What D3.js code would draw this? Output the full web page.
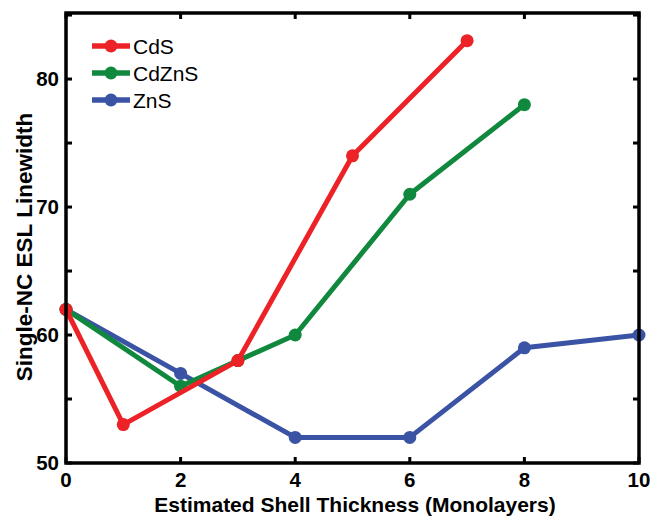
<!DOCTYPE html>
<html><head><meta charset="utf-8">
<script src="https://cdn.jsdelivr.net/npm/d3@7"></script>
<style>body{margin:0;background:#fff}</style>
</head><body>
<svg id="c" width="651" height="516"></svg>
<script>
const seriesNames = ["CdS", "CdZnS", "ZnS"];
const seriesColors = ["#ec2227", "#10893e", "#3a53a4"];
const cdsX = [0, 1, 3, 5, 7];
const cdsY = [62, 53, 58, 74, 83];
const cdznsX = [0, 2, 3, 4, 6, 8];
const cdznsY = [62, 56, 58, 60, 71, 78];
const znsX = [0, 2, 4, 6, 8, 10];
const znsY = [62, 57, 52, 52, 59, 60];
const xTicks = [0, 2, 4, 6, 8, 10];
const yTicks = [50, 55, 60, 65, 70, 75, 80, 85];
const yLabels = [50, 60, 70, 80];
const xTitle = "Estimated Shell Thickness (Monolayers)";
const yTitle = "Single-NC ESL Linewidth";

const svg = d3.select("#c");
const L = 66, R = 639, T = 13, B = 463;
const x = d3.scaleLinear().domain([0, 10]).range([L, R]);
const y = d3.scaleLinear().domain([50, 85.16]).range([B, T]);
const font = "Arial, 'Liberation Sans', sans-serif";

const data = [
  cdsX.map((v, i) => [v, cdsY[i]]),
  cdznsX.map((v, i) => [v, cdznsY[i]]),
  znsX.map((v, i) => [v, znsY[i]])
];

// ticks (inward on all sides)
const tl = 6;
const g = svg.append("g").attr("stroke", "#000").attr("stroke-width", 3);
xTicks.forEach(v => {
  g.append("line").attr("x1", x(v)).attr("x2", x(v)).attr("y1", B).attr("y2", B - tl);
  g.append("line").attr("x1", x(v)).attr("x2", x(v)).attr("y1", T).attr("y2", T + tl);
});
yTicks.forEach(v => {
  g.append("line").attr("x1", L).attr("x2", L + tl).attr("y1", y(v)).attr("y2", y(v));
  g.append("line").attr("x1", R).attr("x2", R - tl).attr("y1", y(v)).attr("y2", y(v));
});

// lines (draw ZnS first so CdS on top)
const line = d3.line().x(d => x(d[0])).y(d => y(d[1]));
[2, 1, 0].forEach(i => {
  svg.append("path").datum(data[i]).attr("d", line)
    .attr("fill", "none").attr("stroke", seriesColors[i]).attr("stroke-width", 5)
    .attr("stroke-linejoin", "round");
  svg.selectAll(null).data(data[i]).enter().append("circle")
    .attr("cx", d => x(d[0])).attr("cy", d => y(d[1])).attr("r", 6.5)
    .attr("fill", seriesColors[i]);
});

// frame
svg.append("rect").attr("x", L).attr("y", T).attr("width", R - L).attr("height", B - T)
  .attr("fill", "none").attr("stroke", "#000").attr("stroke-width", 3.5);

// tick labels
xTicks.forEach(v => {
  svg.append("text").attr("x", x(v)).attr("y", 487).attr("text-anchor", "middle")
    .attr("font-family", font).attr("font-weight", "bold").attr("font-size", 20.5).text(v);
});
yLabels.forEach(v => {
  svg.append("text").attr("x", 59).attr("y", y(v) + 6.5).attr("text-anchor", "end")
    .attr("font-family", font).attr("font-weight", "bold").attr("font-size", 20.5).text(v);
});

// axis titles
svg.append("text").attr("x", 355).attr("y", 512).attr("text-anchor", "middle")
  .attr("font-family", font).attr("font-weight", "bold").attr("font-size", 21).text(xTitle);
svg.append("text").attr("transform", "translate(32,247) rotate(-90)").attr("text-anchor", "middle")
  .attr("font-family", font).attr("font-weight", "bold").attr("font-size", 22.5).text(yTitle);

// legend
seriesNames.forEach((n, i) => {
  const ly = 46 + i * 27;
  svg.append("line").attr("x1", 92).attr("x2", 130).attr("y1", ly).attr("y2", ly)
    .attr("stroke", seriesColors[i]).attr("stroke-width", 5.5);
  svg.append("circle").attr("cx", 111).attr("cy", ly).attr("r", 6.5).attr("fill", seriesColors[i]);
  svg.append("text").attr("x", 133).attr("y", ly + 7.5).attr("font-family", font)
    .attr("font-size", 21).text(n);
});
</script>
</body></html>
